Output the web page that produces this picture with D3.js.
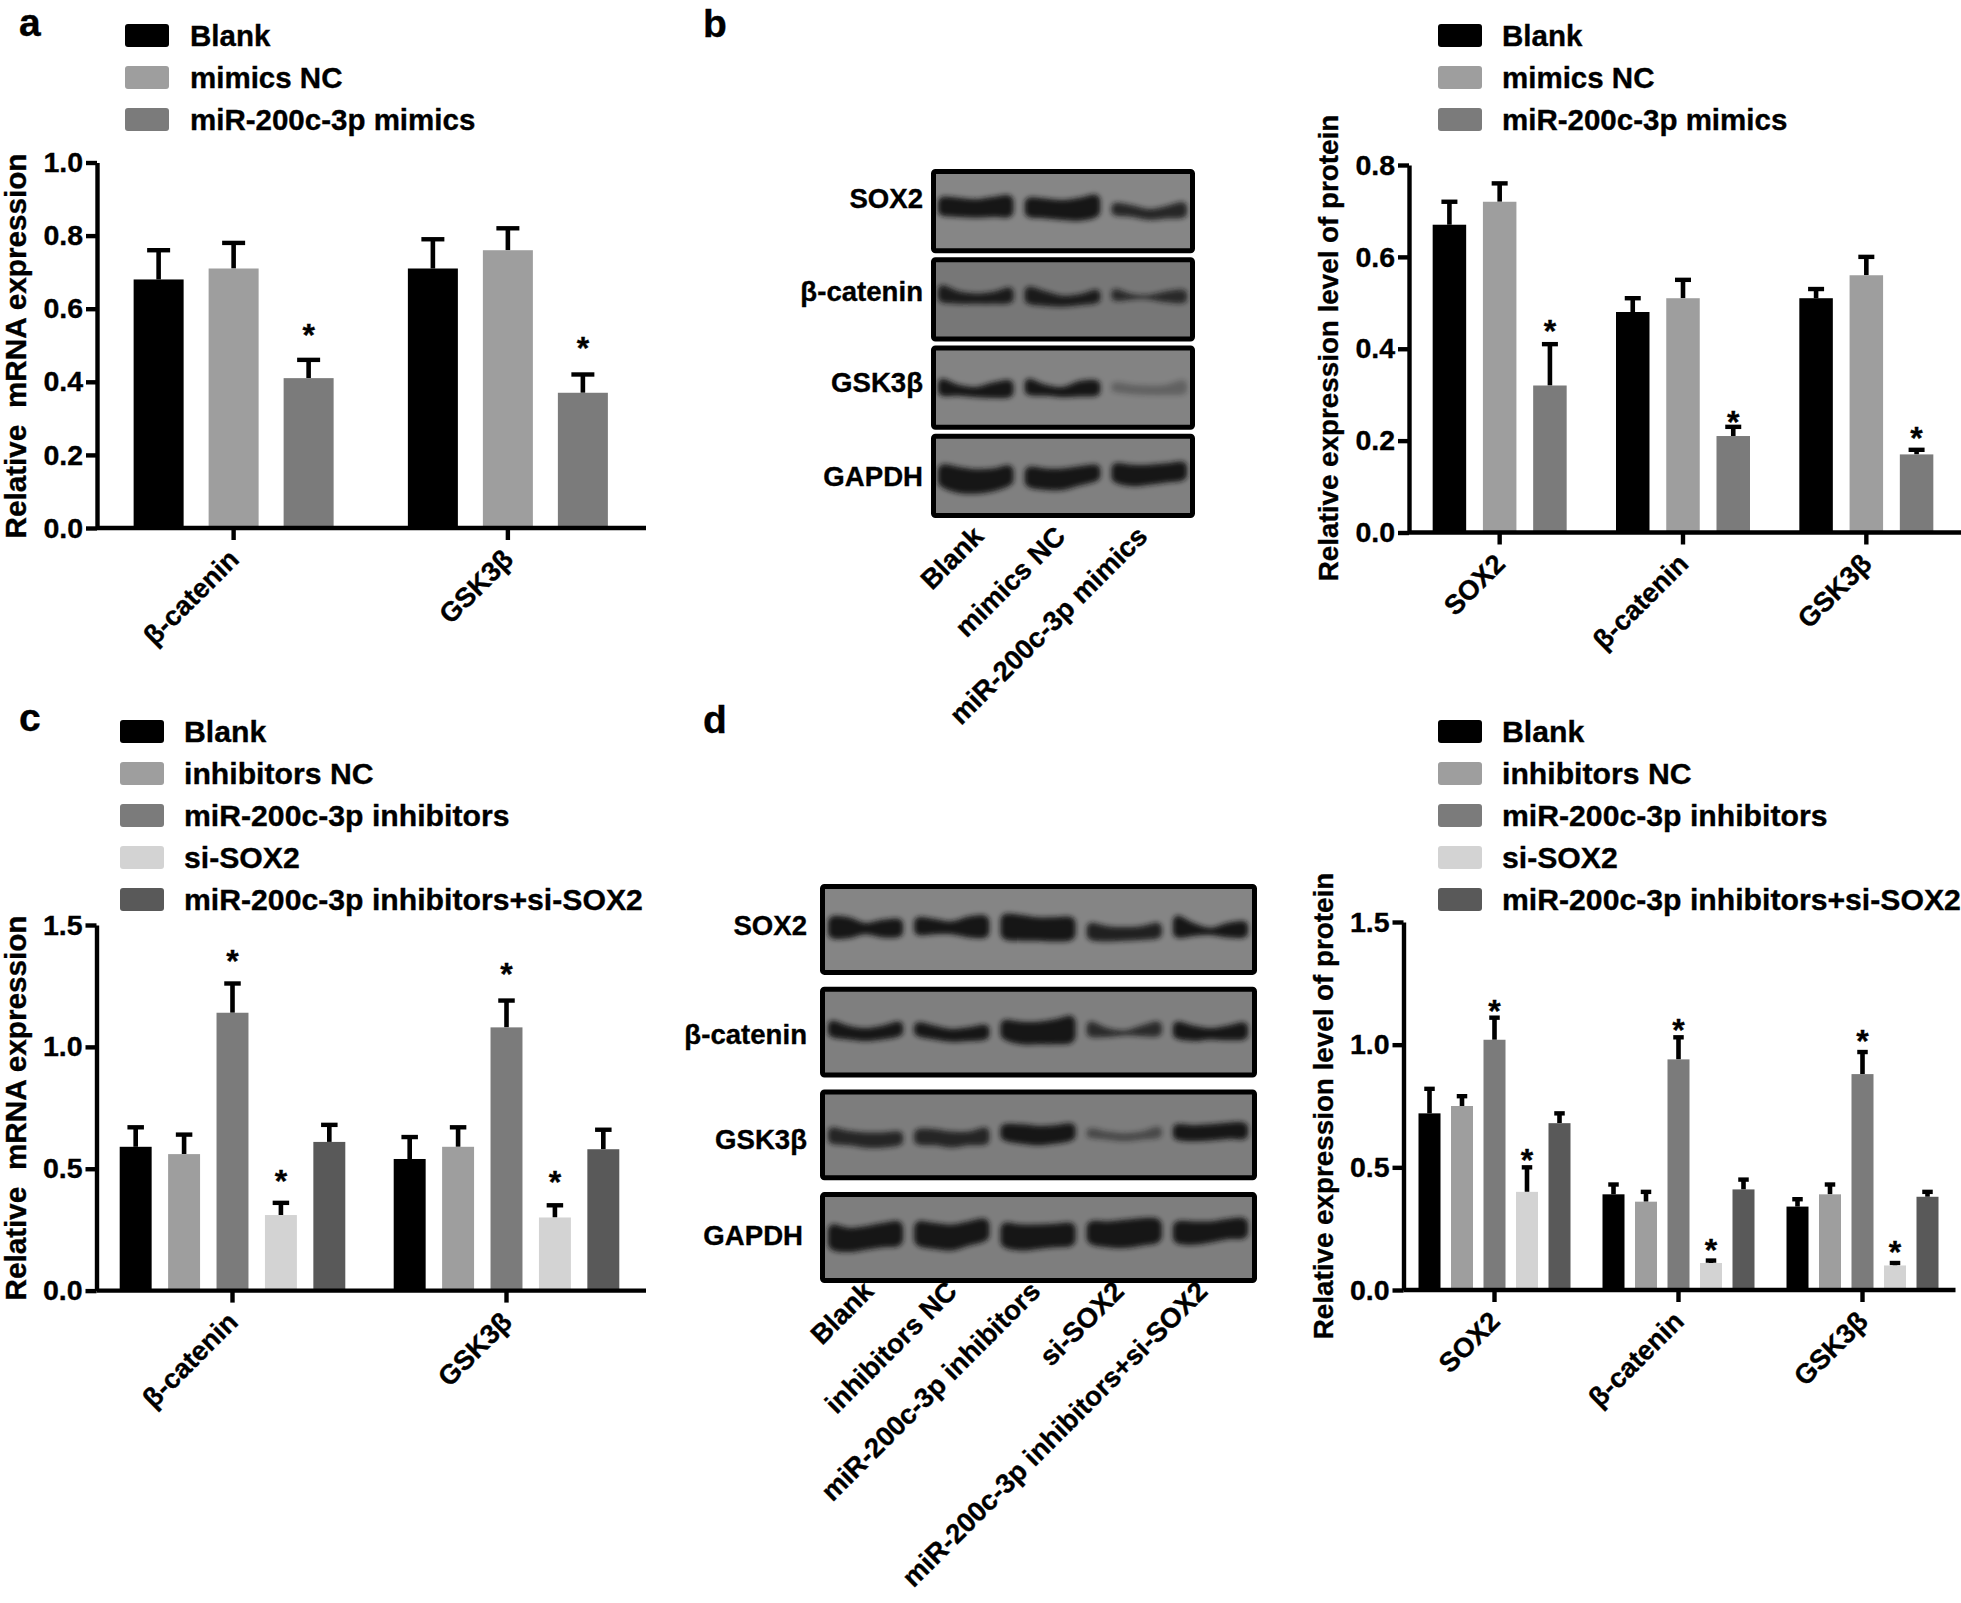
<!DOCTYPE html>
<meta charset="utf-8">
<head>
<style>
body { margin: 0; background: #fff; }
text { font-family: 'Liberation Sans', Arial, sans-serif; font-weight: bold; fill: #000; stroke: #000; stroke-width: 0.35px; }
.axis path, .axis line { stroke: #000; stroke-width: 4.4px; }
.axis text { font-size: 28.5px; font-family: 'Liberation Sans', Arial, sans-serif; font-weight: bold; stroke: #000; stroke-width: 0.35px; }
</style>
<script src="https://d3js.org/d3.v7.min.js"></script>
</head>
<body>
<svg id="fig" width="1961" height="1603"></svg>
<script>

// panel a
var aGroups = ['β-catenin', 'GSK3β']
var aSeries = ['Blank', 'mimics NC', 'miR-200c-3p mimics']
var aMeans = [[0.68, 0.71, 0.41], [0.71, 0.76, 0.37]]
var aTops = [[0.76, 0.78, 0.46], [0.79, 0.82, 0.42]]
var aStars = [[null, null, 0.541], [null, null, 0.505]]
var aTicks = [0, 0.2, 0.4, 0.6, 0.8, 1.0]

// panel b
var bGroups = ['SOX2', 'β-catenin', 'GSK3β']
var bSeries = ['Blank', 'mimics NC', 'miR-200c-3p mimics']
var bMeans = [[0.67, 0.72, 0.32], [0.48, 0.51, 0.21], [0.51, 0.56, 0.17]]
var bTops = [[0.72, 0.76, 0.41], [0.51, 0.55, 0.23], [0.53, 0.60, 0.18]]
var bStars = [[null, null, 0.45], [null, null, 0.252], [null, null, 0.217]]
var bTicks = [0, 0.2, 0.4, 0.6, 0.8]

// panel c
var cGroups = ['β-catenin', 'GSK3β']
var cSeries = ['Blank', 'inhibitors NC', 'miR-200c-3p inhibitors', 'si-SOX2', 'miR-200c-3p inhibitors+si-SOX2']
var cMeans = [[0.59, 0.56, 1.14, 0.31, 0.61], [0.54, 0.59, 1.08, 0.30, 0.58]]
var cTops = [[0.67, 0.64, 1.26, 0.36, 0.68], [0.63, 0.67, 1.19, 0.35, 0.66]]
var cStars = [[null, null, 1.374, 0.47, null], [null, null, 1.32, 0.466, null]]
var cTicks = [0, 0.5, 1.0, 1.5]

// panel d
var dGroups = ['SOX2', 'β-catenin', 'GSK3β']
var dSeries = cSeries
var dMeans = [[0.72, 0.75, 1.02, 0.40, 0.68], [0.39, 0.36, 0.94, 0.11, 0.41], [0.34, 0.39, 0.88, 0.10, 0.38]]
var dTops = [[0.82, 0.79, 1.11, 0.50, 0.72], [0.43, 0.40, 1.03, 0.12, 0.45], [0.37, 0.43, 0.97, 0.11, 0.40]]
var dStars = [[null, null, 1.158, 0.552, null], [null, null, 1.08, 0.185, null], [null, null, 1.035, 0.175, null]]
var dTicks = [0, 0.5, 1.0, 1.5]

var greys = ['#000000', '#9e9e9e', '#7b7b7b', '#d3d3d3', '#595959']

// western blots: band edges, % of the strip height, row > lane > 5 knots across the lane
var blotRows = ['SOX2', 'β-catenin', 'GSK3β', 'GAPDH']

var blotBTop = [
  [[34,35,37,34,32], [35,36,38,35,31], [42,45,50,46,41]],
  [[34,42,45,43,37], [36,42,48,46,40], [39,46,47,42,40]],
  [[41,49,52,46,43], [41,49,52,44,43], [46,49,50,49,43]],
  [[38,41,44,43,39], [41,43,43,40,38], [36,38,38,36,34]]
]
var blotBBottom = [
  [[53,55,56,55,55], [55,57,59,60,55], [53,55,59,57,56]],
  [[51,53,53,53,52], [53,56,57,55,52], [49,47,47,51,52]],
  [[58,58,60,61,60], [57,58,60,59,58], [53,56,57,57,56]],
  [[62,70,71,68,60], [62,66,66,60,54], [56,61,59,56,53]]
]
var blotBDark = [[1, 1, 0.85], [0.95, 0.95, 0.8], [1, 1, 0.3], [1, 1, 1]]
var blotBFill = ['#868686', '#777777', '#838383', '#808080']

var blotDTop = [
  [[37,38,45,41,40], [38,40,43,37,36], [34,35,38,38,38], [45,49,50,49,45], [36,45,51,45,43]],
  [[39,45,48,45,40], [41,45,49,47,44], [38,40,40,37,33], [40,48,51,45,40], [40,45,48,45,41]],
  [[44,48,50,50,49], [46,46,49,49,44], [40,40,42,41,39], [45,49,51,49,43], [40,41,40,38,38]],
  [[37,41,39,35,33], [33,35,37,33,30], [35,37,37,36,35], [33,33,31,29,30], [33,33,33,30,29]]
]
var blotDBottom = [
  [[58,58,53,57,56], [54,53,53,57,57], [59,61,61,62,60], [60,62,61,60,58], [57,55,54,57,57]],
  [[53,56,58,56,52], [52,56,59,58,56], [56,62,62,62,60], [53,53,51,52,52], [55,58,56,57,56]],
  [[58,60,63,63,60], [59,60,63,60,59], [54,58,60,58,54], [51,53,55,53,51], [53,55,54,52,52]],
  [[62,65,62,59,57], [57,61,63,57,51], [59,63,61,59,57], [55,59,60,57,53], [54,56,53,49,48]]
]
var blotDDark = [[1, 1, 1, 0.9, 1], [1, 1, 1, 0.8, 1], [0.85, 0.85, 1, 0.5, 1], [1, 1, 1, 1, 1]]
var blotDFill = ['#858585', '#7f7f7f', '#7d7d7d', '#7e7e7e']

var svg = d3.select('#fig')

var defs = svg.append('defs')
defs.append('filter').attr('id', 'bandBlur')
  .attr('x', '-10%').attr('y', '-60%').attr('width', '120%').attr('height', '220%')
  .append('feGaussianBlur').attr('stdDeviation', 2.8)

function drawLegend(series, x, y, textX, size) {
  var g = svg.append('g')
  var row = d3.scaleBand().domain(series).range([y, y + 42 * series.length])
  g.selectAll('rect').data(series).enter().append('rect')
    .attr('x', x).attr('y', function (d) { return row(d) })
    .attr('width', 44).attr('height', 23).attr('rx', 3)
    .attr('fill', function (d, i) { return greys[i] })
  g.selectAll('text').data(series).enter().append('text')
    .attr('x', textX).attr('y', function (d) { return row(d) + 22 })
    .style('font-size', size + 'px')
    .text(function (d) { return d })
}

function drawBars(p) {
  var g = svg.append('g')

  var y = d3.scaleLinear().domain([0, p.max]).range([p.bottom, p.top])
  var x0 = d3.scaleBand().domain(p.groups).range([p.left, p.right])
  var x1 = d3.scaleBand().domain(p.series).range([0, p.clusterWidth]).paddingInner(p.gap)
  var bw = x1.bandwidth()
  var shift = (x0.bandwidth() - p.clusterWidth) / 2

  var cells = []
  p.groups.forEach(function (gr, i) {
    p.series.forEach(function (s, j) {
      cells.push({ group: gr, series: s, j: j, mean: p.means[i][j], top: p.tops[i][j], star: p.stars[i][j] })
    })
  })
  function cx(d) { return x0(d.group) + shift + x1(d.series) + bw / 2 }

  // error bars go under the bars
  var err = g.selectAll('.err').data(cells).enter().append('g').attr('class', 'err')
  err.append('line')
    .attr('x1', cx).attr('x2', cx)
    .attr('y1', function (d) { return y(d.mean) })
    .attr('y2', function (d) { return y(d.top) })
    .attr('stroke', '#000').attr('stroke-width', 4.6)
  err.append('line')
    .attr('x1', function (d) { return cx(d) - p.cap / 2 })
    .attr('x2', function (d) { return cx(d) + p.cap / 2 })
    .attr('y1', function (d) { return y(d.top) })
    .attr('y2', function (d) { return y(d.top) })
    .attr('stroke', '#000').attr('stroke-width', 4.4)

  g.selectAll('.bar').data(cells).enter().append('rect').attr('class', 'bar')
    .attr('x', function (d) { return cx(d) - bw / 2 })
    .attr('width', bw)
    .attr('y', function (d) { return y(d.mean) })
    .attr('height', function (d) { return y(0) - y(d.mean) })
    .attr('fill', function (d) { return greys[d.j] })

  g.selectAll('.star').data(cells.filter(function (d) { return d.star !== null })).enter().append('text')
    .attr('class', 'star')
    .attr('x', function (d) { return cx(d) })
    .attr('y', function (d) { return y(d.star) })
    .attr('dy', '0.5em')
    .attr('text-anchor', 'middle')
    .style('font-size', '32px')
    .text('*')

  var ax = g.append('g').attr('class', 'axis')
    .attr('transform', 'translate(' + p.axisX + ',0)')
    .call(d3.axisLeft(y).tickValues(p.ticks).tickFormat(d3.format('.1f')).tickSize(11).tickSizeOuter(0).tickPadding(3))
  ax.selectAll('text').attr('fill', '#000')

  var bx = g.append('g').attr('class', 'axis')
    .attr('transform', 'translate(0,' + p.bottom + ')')
    .call(d3.axisBottom(x0).tickSize(12).tickSizeOuter(0))
  bx.select('.domain').remove()
  bx.append('line').attr('x1', p.axisX).attr('x2', p.axisEnd)
  bx.selectAll('text')
    .attr('fill', '#000')
    .attr('y', 0).attr('dy', 0)
    .attr('text-anchor', 'end')
    .style('font-size', '27.3px')
    .attr('transform', 'translate(7,33) rotate(-45)')

  g.append('text')
    .attr('transform', 'translate(' + p.titleX + ',' + p.titleY + ') rotate(-90)')
    .attr('text-anchor', 'middle')
    .style('font-size', p.titleSize + 'px')
    .style('white-space', 'pre')
    .text(p.title)
}

function drawBlot(b) {
  var g = svg.append('g')
  var row = d3.scaleBand().domain(blotRows).range([b.y0, b.y1]).paddingInner(b.rowGap)
  var lane = d3.scaleBand().domain(b.lanes).range([b.laneX0, b.laneX1]).paddingInner(0.13)
  var ink = 5
  var pct = d3.scaleLinear().domain([0, 100]).range([0, row.bandwidth() - 2 * ink])
  var knot = d3.scaleLinear().domain([0, 4]).range([0.05, 0.95])

  blotRows.forEach(function (name, r) {
    var rg = g.append('g').attr('transform', 'translate(0,' + (row(name) + ink) + ')')
    rg.append('rect')
      .attr('x', b.x0 + ink / 2).attr('y', -ink / 2)
      .attr('width', b.x1 - b.x0 - ink).attr('height', row.bandwidth() - ink)
      .attr('rx', 2)
      .attr('fill', b.fill[r]).attr('stroke', '#000').attr('stroke-width', ink)

    b.lanes.forEach(function (l, i) {
      var w = lane.bandwidth()
      var pts = b.top[r][i].map(function (t, k) {
        return { x: lane(l) + knot(k) * w, t: t - 3, b: b.bottom[r][i][k] + 3 }
      })
      // blunt ends, the blur rounds them off
      var first = (pts[0].t + pts[0].b) / 2
      var firstH = (pts[0].b - pts[0].t) * 0.3
      var last = (pts[4].t + pts[4].b) / 2
      var lastH = (pts[4].b - pts[4].t) * 0.3
      pts.unshift({ x: lane(l), t: first - firstH, b: first + firstH })
      pts.push({ x: lane(l) + w, t: last - lastH, b: last + lastH })
      var area = d3.area()
        .x(function (d) { return d.x })
        .y0(function (d) { return pct(d.t) })
        .y1(function (d) { return pct(d.b) })
        .curve(d3.curveCatmullRom)
      rg.append('path').attr('d', area(pts))
        .attr('fill', '#141414')
        .attr('opacity', b.dark[r][i])
        .attr('filter', 'url(#bandBlur)')
    })

    g.append('text')
      .attr('x', b.labelX + b.labelDx[r])
      .attr('y', row(name) + row.bandwidth() / 2 + b.labelDy[r])
      .attr('dy', '0.35em')
      .attr('text-anchor', 'end')
      .style('font-size', '27.6px')
      .text(name)
  })

  var under = d3.scalePoint().domain(b.lanes).range([b.underX0, b.underX1])
  g.selectAll('.under').data(b.lanes).enter().append('text')
    .attr('class', 'under')
    .attr('text-anchor', 'end')
    .attr('transform', function (d) { return 'translate(' + under(d) + ',' + b.underY + ') rotate(-45)' })
    .style('font-size', '27.5px')
    .text(function (d) { return d })
}

function letter(t, x, y) {
  svg.append('text').attr('x', x).attr('y', y).style('font-size', '39px').text(t)
}

letter('a', 19, 36)
letter('b', 703, 37)
letter('c', 19, 731)
letter('d', 703, 733)

drawLegend(aSeries, 125, 24, 190, 29.5)
drawLegend(bSeries, 1438, 24, 1502, 29.5)
drawLegend(cSeries, 120, 720, 184, 30.2)
drawLegend(dSeries, 1438, 720, 1502, 30.2)

drawBars({
  groups: aGroups, series: aSeries, means: aMeans, tops: aTops, stars: aStars, ticks: aTicks,
  max: 1, top: 162.5, bottom: 528, left: 96.5, right: 645, axisX: 97, axisEnd: 646, clusterWidth: 200, gap: 1 / 3, cap: 23,
  title: 'Relative  mRNA expression', titleX: 26, titleY: 346, titleSize: 29.7
})
drawBars({
  groups: bGroups, series: bSeries, means: bMeans, tops: bTops, stars: bStars, ticks: bTicks,
  max: 0.8, top: 165, bottom: 532.5, left: 1408, right: 1958, axisX: 1409, axisEnd: 1961, clusterWidth: 134, gap: 1 / 3, cap: 16,
  title: 'Relative expression level of protein', titleX: 1338, titleY: 348, titleSize: 27.8
})
drawBars({
  groups: cGroups, series: cSeries, means: cMeans, tops: cTops, stars: cStars, ticks: cTicks,
  max: 1.5, top: 925, bottom: 1290.6, left: 95.5, right: 643.5, axisX: 96.5, axisEnd: 646, clusterWidth: 225.6, gap: 0.34, cap: 16.5,
  title: 'Relative  mRNA expression', titleX: 26, titleY: 1108, titleSize: 29.7
})
drawBars({
  groups: dGroups, series: dSeries, means: dMeans, tops: dTops, stars: dStars, ticks: dTicks,
  max: 1.5, top: 922, bottom: 1290, left: 1402.5, right: 1954.5, axisX: 1403.5, axisEnd: 1955.5, clusterWidth: 152, gap: 0.323, cap: 10.5,
  title: 'Relative expression level of protein', titleX: 1333, titleY: 1106, titleSize: 27.8
})

drawBlot({
  lanes: aSeries, top: blotBTop, bottom: blotBBottom, dark: blotBDark, fill: blotBFill,
  x0: 931, x1: 1195, y0: 169, y1: 518, rowGap: 0.045, laneX0: 938, laneX1: 1187,
  labelX: 923, labelDx: [0, 0, 0, 0], labelDy: [-13, -8, -5, 0],
  underX0: 985, underX1: 1149, underY: 538
})
drawBlot({
  lanes: cSeries, top: blotDTop, bottom: blotDBottom, dark: blotDDark, fill: blotDFill,
  x0: 820, x1: 1257, y0: 884, y1: 1283, rowGap: 0.115, laneX0: 828, laneX1: 1248,
  labelX: 807, labelDx: [0, 0, 0, -4], labelDy: [-4, 2, 4, -2],
  underX0: 875, underX1: 1209, underY: 1293
})

</script>
</body>
</html>
